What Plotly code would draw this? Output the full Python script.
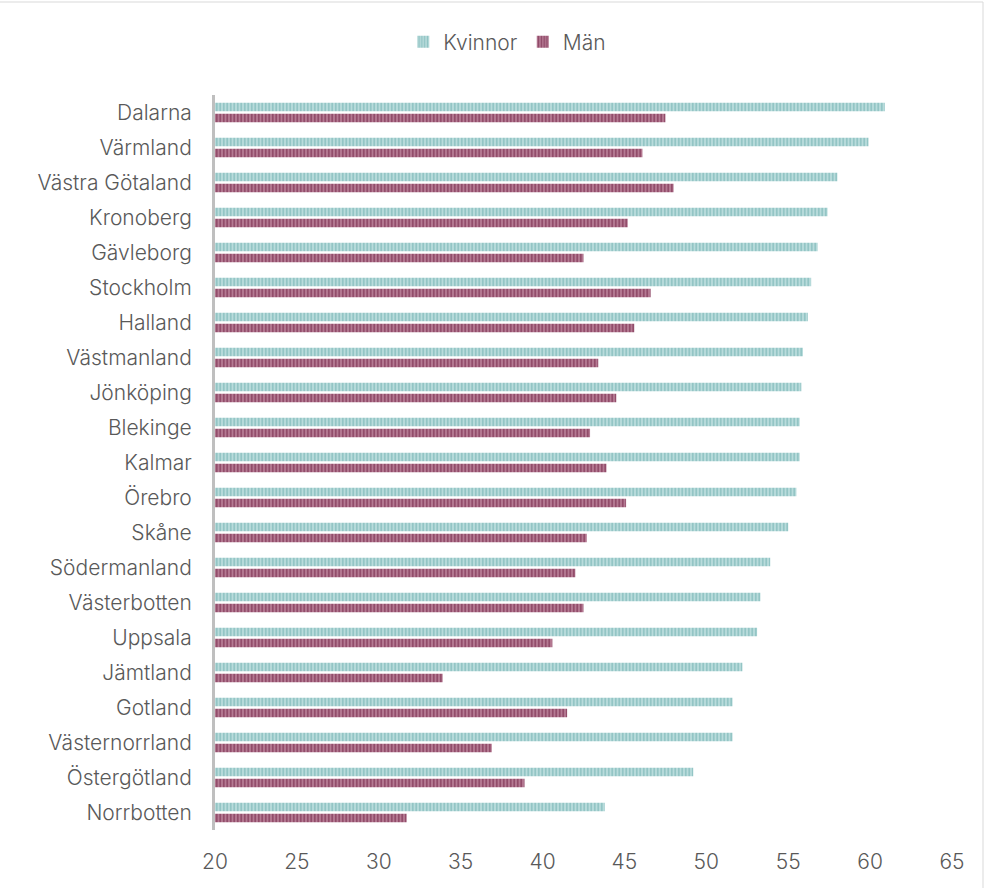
import plotly.graph_objects as go

regions = ["Dalarna", "Värmland", "Västra Götaland", "Kronoberg", "Gävleborg",
           "Stockholm", "Halland", "Västmanland", "Jönköping", "Blekinge",
           "Kalmar", "Örebro", "Skåne", "Södermanland", "Västerbotten",
           "Uppsala", "Jämtland", "Gotland", "Västernorrland", "Östergötland",
           "Norrbotten"]
kvinnor = [60.9, 59.9, 58.0, 57.4, 56.8, 56.4, 56.2, 55.9, 55.8, 55.7,
           55.7, 55.5, 55.0, 53.9, 53.3, 53.1, 52.2, 51.6, 51.6, 49.2, 43.8]
man = [47.5, 46.1, 48.0, 45.2, 42.5, 46.6, 45.6, 43.4, 44.5, 42.9,
       43.9, 45.1, 42.7, 42.0, 42.5, 40.6, 33.9, 41.5, 36.9, 38.9, 31.7]
x_ticks = [20, 25, 30, 35, 40, 45, 50, 55, 60, 65]

W, H = 985, 888
L, R, T, B = 215, 33, 95, 58
pw, ph = W - L - R, H - T - B

font_family = "Inter"
txt = "#595959"

fig = go.Figure()
fig.add_trace(go.Bar(
    y=regions, x=kvinnor, orientation="h", name="Kvinnor",
    marker=dict(color="#b9dcdc", line=dict(width=0),
                pattern=dict(shape="|", size=3.5, solidity=0.45,
                             fgcolor="#8fc3c3", bgcolor="#b9dcdc", fillmode="replace")),
))
fig.add_trace(go.Bar(
    y=regions, x=man, orientation="h", name="Män",
    marker=dict(color="#b57a93", line=dict(width=0),
                pattern=dict(shape="|", size=3.5, solidity=0.45,
                             fgcolor="#8e4866", bgcolor="#b57a93", fillmode="replace")),
))

# outer chart border (only top and right edges fall inside the picture)
fig.add_shape(type="rect", xref="paper", yref="paper",
              x0=(-20 - L) / pw, x1=(983 - L) / pw,
              y0=(H - B - (H + 20)) / ph, y1=(H - B - 2) / ph,
              line=dict(color="#d9d9d9", width=1), fillcolor="rgba(0,0,0,0)", layer="below")

fig.update_layout(
    width=W, height=H,
    margin=dict(l=L, r=R, t=T, b=B),
    paper_bgcolor="white", plot_bgcolor="white",
    barmode="group", bargap=0.37, bargroupgap=0.22,
    font=dict(family=font_family, size=21, color=txt, weight=300),
    legend=dict(orientation="h", xref="container", yref="container",
                x=0.515, xanchor="center", y=1 - 42 / H, yanchor="middle",
                font=dict(size=21, color=txt, weight=300), itemwidth=30,
                traceorder="normal"),
    xaxis=dict(range=[20, 65], tickvals=x_ticks, showgrid=False, zeroline=False,
               showline=False, ticks="", ticklabelstandoff=17,
               tickfont=dict(size=21, color=txt, weight=300)),
    yaxis=dict(autorange="reversed", showgrid=False, zeroline=False,
               showline=True, linecolor="#bfbfbf", linewidth=3, ticks="",
               ticklabelstandoff=16,
               tickfont=dict(size=21, color=txt, weight=300)),
)
fig.write_html("out.html")
